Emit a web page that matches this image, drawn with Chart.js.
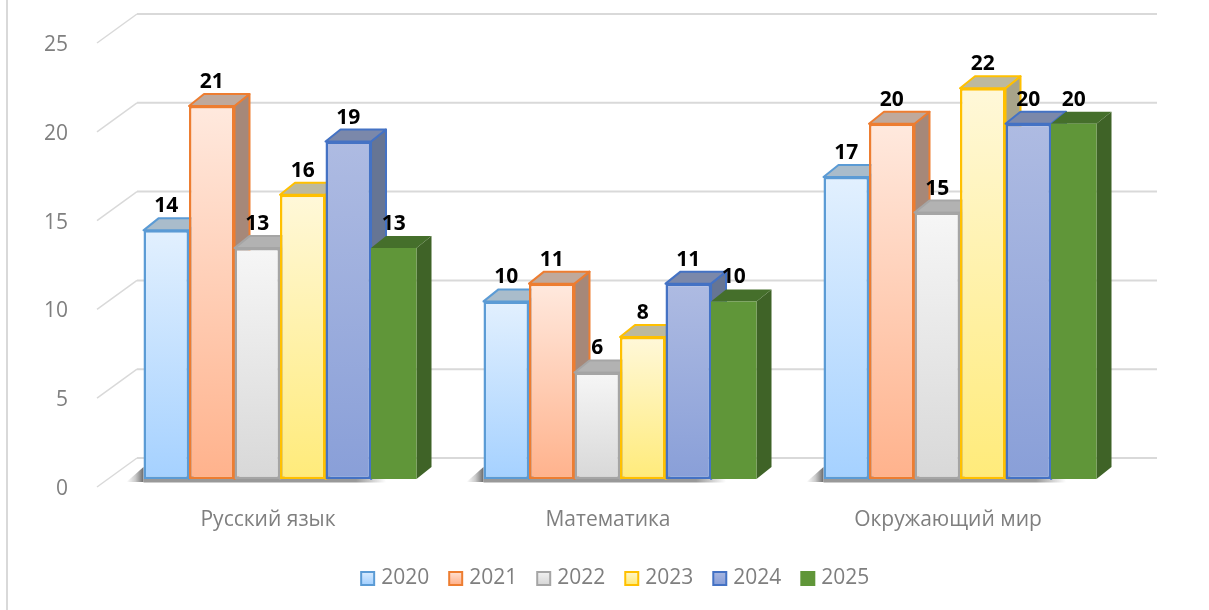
<!DOCTYPE html>
<html>
<head>
<meta charset="utf-8">
<title>Chart</title>
<script src="https://cdn.jsdelivr.net/npm/chart.js@4"></script>
<style>
html,body{margin:0;padding:0;background:#fff;}
canvas{display:block;}
#frame{position:absolute;left:6px;top:0;width:2px;height:610px;background:#d9d9d9;}
</style>
</head>
<body>
<div id="frame"></div>
<canvas id="chart" width="1209" height="610"></canvas>
<script>
/* ==========================================
DATA
========================================== */

const subjects = ["Русский язык", "Математика", "Окружающий мир"];
const years = ["2020", "2021", "2022", "2023", "2024", "2025"];

const values2020 = [14, 10, 17];
const values2021 = [21, 11, 20];
const values2022 = [13, 6, 15];
const values2023 = [16, 8, 22];
const values2024 = [19, 11, 20];
const values2025 = [13, 10, 20];

const yTicks = [0, 5, 10, 15, 20, 25];

/* ==========================================
STYLES
========================================== */

const allValues = [values2020, values2021, values2022, values2023, values2024, values2025];

const gradTop = ["#e2f0fe", "#ffe9de", "#f6f6f6", "#fff8d9", "#aebbe2", "#609639"];
const gradBottom = ["#a5d1ff", "#ffb28c", "#d8d8d8", "#ffeb7a", "#899fd8", "#609639"];
const borders = ["#5b9bd5", "#ed7d31", "#a5a5a5", "#ffc000", "#4472c4", "#609639"];
const borderWidths = [2.5, 2.5, 2.5, 2.5, 2.5, 0];
const topFaces = ["#a9bccb", "#bfa99c", "#b2b2b2", "#bdb99d", "#7b88aa", "#456f2b"];
const sideFaces = ["#8ba0b3", "#a68879", "#969696", "#a8a48a", "#667594", "#3f6327"];

const depthX = 15;
const depthY = 12;
const gridBack = {x: 27, y: -21};
const gridFront = {x: -13, y: 8};

const fontName = "'Open Sans', 'Noto Sans', sans-serif";

/* ==========================================
3D HELPERS
========================================== */

function barGradient(ctx, i){

if(ctx.raw === undefined) return gradBottom[i];

const chart = ctx.chart;
const yScale = chart.scales.y;

const grad = chart.ctx.createLinearGradient(
0,
yScale.getPixelForValue(ctx.raw),
0,
yScale.getPixelForValue(0)
);

grad.addColorStop(0, gradTop[i]);
grad.addColorStop(1, gradBottom[i]);

return grad;

}

function polygon(c, points, fill, stroke){

c.beginPath();
points.forEach((p, n) => {
if(n === 0) c.moveTo(p[0], p[1]);
else c.lineTo(p[0], p[1]);
});
c.closePath();

c.fillStyle = fill;
c.fill();

if(stroke !== borders[5]){
c.strokeStyle = stroke;
c.lineWidth = 2;
c.lineJoin = "round";
c.stroke();
}

}

function drawFaces(c, meta, i){

meta.data.forEach(bar => {

const l = bar.x - bar.width / 2;
const r = bar.x + bar.width / 2;
const t = bar.y;
const b = bar.base;

polygon(c, [
[r, t],
[r + depthX, t - depthY],
[r + depthX, b - depthY],
[r, b]
], sideFaces[i], borders[i]);

polygon(c, [
[l, t],
[l + depthX, t - depthY],
[r + depthX, t - depthY],
[r, t]
], topFaces[i], borders[i]);

});

}

const box3d = {

id: "box3d",

beforeDatasetsDraw(chart){

const c = chart.ctx;
const area = chart.chartArea;
const yScale = chart.scales.y;

/* gridlines with the floor and back wall */
c.save();
c.strokeStyle = "#d9d9d9";

yScale.ticks.forEach(tick => {

const y = yScale.getPixelForValue(tick.value);

c.lineWidth = 1.5;
c.beginPath();
c.moveTo(area.left + gridFront.x, y + gridFront.y);
c.lineTo(area.left + gridBack.x, y + gridBack.y);
c.stroke();

c.lineWidth = 2;
c.beginPath();
c.moveTo(area.left + gridBack.x, y + gridBack.y);
c.lineTo(area.right + gridBack.x, y + gridBack.y);
c.stroke();

});

/* floor shadow under each group */
const first = chart.getDatasetMeta(0).data;
const last = chart.getDatasetMeta(4).data;
const base = yScale.getPixelForValue(0);

subjects.forEach((s, i) => {

const left = first[i].x - first[i].width / 2;
const right = last[i].x + last[i].width / 2 + depthX;

const wedge = c.createLinearGradient(left - 17, 0, left, 0);
wedge.addColorStop(0, "rgba(110,110,110,0)");
wedge.addColorStop(0.5, "rgba(110,110,110,0.35)");
wedge.addColorStop(1, "rgba(90,90,90,0.9)");

c.fillStyle = wedge;
c.beginPath();
c.moveTo(left - 17, base + 3);
c.lineTo(left, base - 12);
c.lineTo(left, base + 3);
c.closePath();
c.fill();

const strip = c.createLinearGradient(right - 30, 0, right, 0);
strip.addColorStop(0, "#999999");
strip.addColorStop(1, "rgba(153,153,153,0)");

c.fillStyle = strip;
c.fillRect(left, base, right - left, 3.5);

});

c.restore();

},

/* the library paints last dataset first, the boxes need left to right */
beforeDatasetDraw(){
return false;
},

afterDatasetsDraw(chart){

const c = chart.ctx;

c.save();

years.forEach((year, i) => {
const meta = chart.getDatasetMeta(i);
drawFaces(c, meta, i);
meta.controller.draw();
});

c.font = "bold 21px " + fontName;
c.fillStyle = "#000000";
c.textAlign = "center";
c.textBaseline = "middle";

chart.data.datasets.forEach((ds, i) => {

chart.getDatasetMeta(i).data.forEach((bar, n) => {
c.fillText(ds.data[n], bar.x, bar.y - 24);
});

});

c.restore();

}

};

/* ==========================================
CHART
========================================== */

new Chart(document.getElementById("chart"), {

type: "bar",

data: {

labels: subjects,

datasets: years.map((year, i) => ({

label: year,

data: allValues[i],

backgroundColor: ctx => barGradient(ctx, i),

borderColor: borders[i],

borderWidth: borderWidths[i],

borderSkipped: false,

categoryPercentage: 0.803,

barPercentage: 1

}))

},

options: {

responsive: false,

animation: false,

layout: {
padding: {left: 25, right: 0, top: 35, bottom: 11}
},

plugins: {

tooltip: {enabled: false},

legend: {

position: "bottom",

labels: {

usePointStyle: true,

boxWidth: 6,

boxHeight: 13,

padding: 23.5,

color: "#7f7f7f",

font: {family: fontName, size: 21},

generateLabels(chart){

return years.map((year, i) => {

const grad = chart.ctx.createLinearGradient(0, 570, 0, 584);
grad.addColorStop(0, gradTop[i]);
grad.addColorStop(1, gradBottom[i]);

return {
text: year,
pointStyle: "rect",
fillStyle: grad,
strokeStyle: borders[i],
lineWidth: 2,
fontColor: "#7f7f7f",
datasetIndex: i
};

});

}

}

}

},

scales: {

x: {

grid: {display: false},

border: {display: false},

ticks: {
color: "#7f7f7f",
font: {family: fontName, size: 21},
padding: 20,
labelOffset: -12,
maxRotation: 0
},

afterFit(scale){
scale.height = 65.5;
scale.paddingLeft = 0;
scale.paddingRight = 0;
}

},

y: {

min: yTicks[0],

max: yTicks[yTicks.length - 1],

grid: {display: false},

border: {display: false},

afterBuildTicks(scale){
scale.ticks = yTicks.map(v => ({value: v}));
},

ticks: {
color: "#7f7f7f",
font: {family: fontName, size: 21},
padding: 34,
labelOffset: 10
},

afterFit(scale){
scale.width = 85;
scale.paddingTop = 0;
scale.paddingBottom = 0;
}

},

spacer: {

position: "right",

min: 0,

max: 1,

grid: {display: false},

border: {display: false},

ticks: {display: false},

afterFit(scale){
scale.width = 79;
scale.paddingTop = 0;
scale.paddingBottom = 0;
}

}

}

},

plugins: [box3d]

});
</script>
</body>
</html>
